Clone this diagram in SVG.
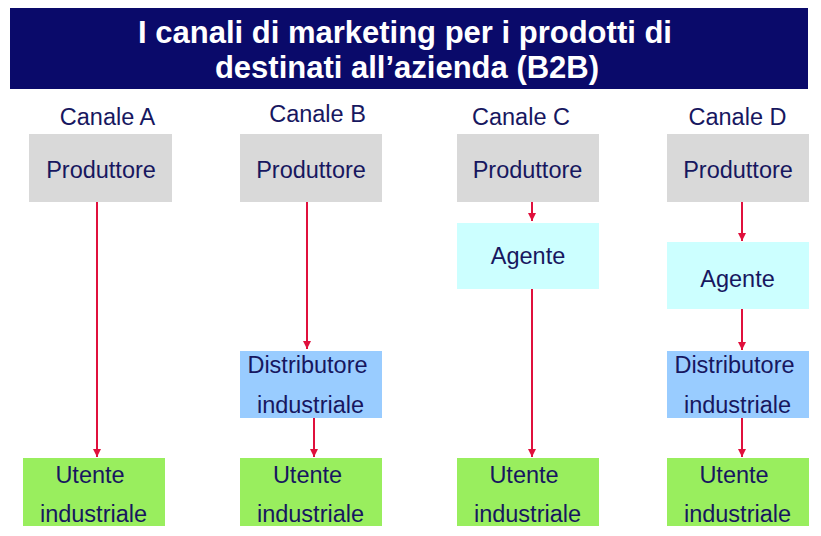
<svg xmlns="http://www.w3.org/2000/svg" width="821" height="536" viewBox="0 0 821 536">
<style>
.title{font-family:"Liberation Sans",Arial,sans-serif;font-weight:bold;font-size:31px;fill:#ffffff;text-anchor:middle}
.t{font-family:"Liberation Sans",Arial,sans-serif;font-size:23.5px;fill:#17175f;text-anchor:middle}
.prod{fill:#d9d9d9}
.ag{fill:#ccffff}
.dist{fill:#99ccff}
.ut{fill:#99ee5e}
.arr{stroke:#e0103c;stroke-width:2;fill:none;marker-end:url(#ah)}
</style>
<defs>
<marker id="ah" markerUnits="userSpaceOnUse" markerWidth="9" markerHeight="9" refX="8" refY="4" orient="auto">
<path d="M0,0 L8,4 L0,8 z" fill="#e0103c"/>
</marker>
</defs>
<rect width="821" height="536" fill="#ffffff"/>
<g id="title">
<rect x="10" y="8" width="798" height="81" fill="#0a0a6a"/>
<text class="title" x="405" y="43">I canali di marketing per i prodotti di</text>
<text class="title" x="407" y="78">destinati all’azienda (B2B)</text>
</g>
<g id="headers">
<text class="t" x="107.5" y="124.5">Canale A</text>
<text class="t" x="317.5" y="121.5">Canale B</text>
<text class="t" x="521" y="124.5">Canale C</text>
<text class="t" x="737.5" y="124.5">Canale D</text>
</g>
<g id="connectors">
<line class="arr" x1="97" y1="202" x2="97" y2="457"/>
<line class="arr" x1="307" y1="202" x2="307" y2="349"/>
<line class="arr" x1="314" y1="418" x2="314" y2="457"/>
<line class="arr" x1="532" y1="202" x2="532" y2="221"/>
<line class="arr" x1="532" y1="289" x2="532" y2="457"/>
<line class="arr" x1="742" y1="202" x2="742" y2="241"/>
<line class="arr" x1="742" y1="309" x2="742" y2="350"/>
<line class="arr" x1="742" y1="418" x2="742" y2="457"/>
</g>
<g id="prodA"><rect class="prod" x="29" y="134" width="143" height="68"/><text class="t" x="101" y="178">Produttore</text></g>
<g id="prodB"><rect class="prod" x="240" y="134" width="142" height="68"/><text class="t" x="311" y="178">Produttore</text></g>
<g id="prodC"><rect class="prod" x="457" y="134" width="142" height="68"/><text class="t" x="527.5" y="178">Produttore</text></g>
<g id="prodD"><rect class="prod" x="667" y="134" width="142" height="68"/><text class="t" x="738" y="178">Produttore</text></g>
<g id="agenteC"><rect class="ag" x="457" y="223" width="142" height="66"/><text class="t" x="528" y="264">Agente</text></g>
<g id="agenteD"><rect class="ag" x="667" y="242" width="142" height="67"/><text class="t" x="737.5" y="287">Agente</text></g>
<g id="distB"><rect class="dist" x="240" y="351" width="142" height="67"/><text class="t" x="307.5" y="373">Distributore</text><text class="t" x="310.5" y="413">industriale</text></g>
<g id="distD"><rect class="dist" x="667" y="351" width="142" height="67"/><text class="t" x="734.5" y="373">Distributore</text><text class="t" x="737.5" y="413">industriale</text></g>
<g id="utenteA"><rect class="ut" x="23" y="458" width="142" height="68"/><text class="t" x="90" y="483">Utente</text><text class="t" x="93.5" y="522">industriale</text></g>
<g id="utenteB"><rect class="ut" x="240" y="458" width="142" height="68"/><text class="t" x="307.5" y="483">Utente</text><text class="t" x="310.5" y="522">industriale</text></g>
<g id="utenteC"><rect class="ut" x="457" y="458" width="142" height="68"/><text class="t" x="524" y="483">Utente</text><text class="t" x="527.5" y="522">industriale</text></g>
<g id="utenteD"><rect class="ut" x="667" y="458" width="142" height="68"/><text class="t" x="734" y="483">Utente</text><text class="t" x="737.5" y="522">industriale</text></g>
</svg>
